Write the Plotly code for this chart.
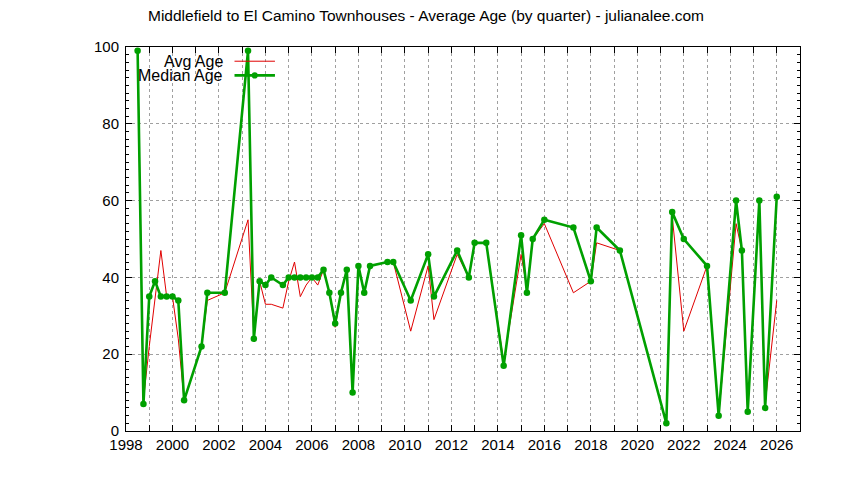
import plotly.graph_objs as go

# quarter positions (decimal years) and ages
quarters = [1998.5, 1998.75, 1999.0, 1999.25, 1999.5, 1999.75, 2000.0, 2000.25, 2000.5,
            2001.25, 2001.5, 2002.25, 2003.25, 2003.5, 2003.75, 2004.0, 2004.25,
            2004.75, 2005.0, 2005.25, 2005.5, 2005.75, 2006.0, 2006.25,
            2006.5, 2006.75, 2007.0, 2007.25, 2007.5, 2007.75, 2008.0, 2008.25, 2008.5,
            2009.25, 2009.5, 2010.25, 2011.0, 2011.25,
            2012.25, 2012.75, 2013.0, 2013.5, 2014.25, 2015.0, 2015.25, 2015.5, 2016.0,
            2017.25, 2018.0, 2018.25, 2019.25, 2021.25, 2021.5, 2022.0, 2023.0, 2023.5,
            2024.25, 2024.5, 2024.75, 2025.25, 2025.5, 2026.0]

avg_age = [99, 8, 22, 34, 47, 35, 35, 24, 8,
           22, 34, 36, 55, 25, 39, 33, 33,
           32, 39, 44, 35, 38, 40, 38,
           42, 36, 27, 36, 42, 11, 43, 36, 43,
           44, 44, 26, 43, 29,
           46, 40, 49, 49, 18, 46, 37, 50, 54,
           36, 39, 49, 47, 2, 56, 26, 43, 4,
           54, 47, 5, 60, 7, 34]

median_age = [99, 7, 35, 39, 35, 35, 35, 34, 8,
              22, 36, 36, 99, 24, 39, 38, 40,
              38, 40, 40, 40, 40, 40, 40,
              42, 36, 28, 36, 42, 10, 43, 36, 43,
              44, 44, 34, 46, 35,
              47, 40, 49, 49, 17, 51, 36, 50, 55,
              53, 39, 53, 47, 2, 57, 50, 43, 4,
              60, 47, 5, 60, 6, 61]

year_ticks = list(range(1998, 2028))
year_labels = [str(y) if y % 2 == 0 and y <= 2026 else "" for y in year_ticks]

RED = "#e00000"
GREEN = "#00a000"
FONT = "Liberation Sans, Arial, sans-serif"

# the page body has an 8px margin, so the figure is drawn 8px smaller
W, H = 836, 472

fig = go.Figure()

# Avg line first so the median sits on top (like gnuplot draws it)
fig.add_trace(go.Scatter(x=quarters, y=avg_age, mode="lines", name="Avg Age",
                         line=dict(color=RED, width=1)))
fig.add_trace(go.Scatter(x=quarters, y=median_age, mode="lines+markers", name="Median Age",
                         line=dict(color=GREEN, width=2.6),
                         marker=dict(color=GREEN, size=6.5, symbol="circle")))

axis_common = dict(
    showline=True, linecolor="black", linewidth=1, mirror="ticks",
    ticks="inside", tickcolor="black", ticklen=6,
    tickfont=dict(family=FONT, size=15, color="black"),
    gridcolor="#a0a0a0", griddash="3px,3px", gridwidth=1,
    zeroline=False,
)

fig.update_layout(
    width=W, height=H,
    paper_bgcolor="white", plot_bgcolor="white",
    margin=dict(l=118, r=44, t=39, b=49),
    showlegend=False,
    title=dict(text="Middlefield to El Camino Townhouses - Average Age (by quarter) - julianalee.com",
               x=0.5, xanchor="center", y=1 - 8 / H, yanchor="middle", yref="container",
               font=dict(family=FONT, size=15.5, color="black")),
    xaxis=dict(range=[1998, 2027], tickmode="array", tickvals=year_ticks, ticktext=year_labels,
               showgrid=True, **axis_common),
    yaxis=dict(range=[0, 100], tickmode="linear", tick0=0, dtick=20, showgrid=True,
               ticklabelstandoff=3,
               minor=dict(dtick=2, ticks="inside", ticklen=3, tickcolor="black", showgrid=False),
               **axis_common),
)

# hand-built legend, text right-aligned with the sample to its right (gnuplot style)
legend_rows = [("Avg Age", RED, 1, 0.963), ("Median Age", GREEN, 2.6, 0.926)]
for label, color, width, ypos in legend_rows:
    fig.add_annotation(text=label, xref="paper", yref="paper", x=0.145, y=ypos,
                       xanchor="right", yanchor="middle", showarrow=False, borderpad=0,
                       font=dict(family=FONT, size=16, color="black"))
    fig.add_shape(type="line", xref="paper", yref="paper", x0=0.161, x1=0.221,
                  y0=ypos, y1=ypos, line=dict(color=color, width=width))
fig.add_shape(type="circle", xref="paper", yref="paper", x0=0.1865, x1=0.1955,
              y0=0.926 - 0.008, y1=0.926 + 0.008, fillcolor=GREEN, line=dict(color=GREEN, width=0))

fig.write_html("out.html")
